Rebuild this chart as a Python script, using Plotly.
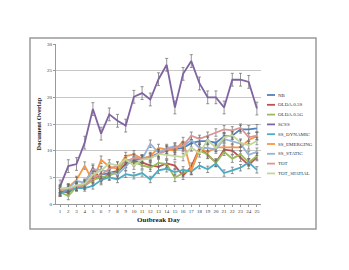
import plotly.graph_objects as go

days = list(range(1, 26))
series_names = ["NB", "OLDA.0.5S", "OLDA.0.5G", "SCSS", "SS_DYNAMIC",
                "SS_EMERGING", "SS_STATIC", "TOT", "TOT_SPATIAL"]
colors = ["#4F81BD", "#C0504D", "#9BBB59", "#8064A2", "#4BACC6",
          "#F79646", "#95B3D7", "#D99694", "#C3D69B"]

nb = [2.2, 2.6, 3.3, 3.8, 4.8, 5.5, 5.8, 6.0, 7.5, 8.2, 8.5, 8.8, 9.5, 10.0, 10.3,
      10.5, 11.4, 11.8, 11.8, 11.5, 12.7, 12.8, 14.0, 14.0, 14.2]
olda_s = [2.3, 2.2, 3.2, 3.7, 6.8, 4.3, 5.8, 6.2, 7.5, 8.0, 7.8, 7.2, 7.0, 7.6, 7.2,
          5.3, 7.0, 10.5, 9.2, 7.8, 10.2, 10.0, 8.7, 7.3, 8.8]
olda_g = [2.2, 1.5, 3.2, 3.4, 4.5, 5.0, 5.3, 6.0, 8.4, 7.8, 7.3, 6.8, 7.7, 7.5, 4.9,
          5.8, 6.5, 10.0, 9.3, 7.7, 9.8, 8.5, 9.3, 7.8, 9.0]
scss = [3.3, 7.1, 7.5, 11.5, 17.8, 13.2, 16.8, 15.6, 14.7, 20.1, 20.8, 19.6, 23.4, 26.1,
        18.1, 24.4, 26.8, 22.6, 20.0, 20.0, 18.1, 23.3, 23.3, 22.9, 17.9]
ss_dyn = [2.0, 2.5, 3.0, 3.0, 3.4, 4.5, 5.0, 4.6, 5.6, 5.3, 5.8, 4.6, 6.3, 6.6, 6.0,
          6.4, 6.1, 7.2, 6.5, 7.6, 5.8, 6.3, 6.8, 7.8, 6.4]
ss_emg = [2.5, 3.1, 4.5, 7.2, 4.2, 8.3, 7.0, 6.6, 9.0, 9.3, 8.5, 9.0, 10.5, 10.2, 10.0,
          11.8, 6.2, 10.6, 9.7, 10.6, 10.6, 10.6, 10.6, 12.0, 12.7]
ss_sta = [2.8, 3.0, 4.3, 4.0, 6.5, 6.4, 6.0, 5.5, 7.0, 8.8, 8.4, 11.3, 9.6, 10.5, 10.8,
          10.8, 12.0, 10.5, 10.5, 10.2, 12.2, 11.8, 11.3, 9.2, 9.8]
tot = [2.6, 2.8, 3.3, 3.5, 5.0, 5.5, 6.6, 7.2, 8.0, 8.6, 8.5, 8.8, 9.2, 10.2, 10.6,
       11.0, 12.8, 12.2, 12.8, 13.4, 14.0, 13.8, 14.3, 12.5, 12.8]
tot_sp = [2.9, 3.0, 3.5, 3.8, 5.5, 6.3, 7.6, 7.2, 8.4, 7.2, 8.3, 8.5, 9.4, 9.2, 9.0,
          8.8, 10.6, 9.5, 12.0, 10.5, 12.5, 12.9, 11.5, 11.0, 11.8]
values = [nb, olda_s, olda_g, scss, ss_dyn, ss_emg, ss_sta, tot, tot_sp]

# estimated error-bar half-lengths per series
errors = [0.7, 0.7, 0.7, 1.2, 0.6, 0.7, 0.7, 0.7, 0.7]

y_ticks = [0, 5, 10, 15, 20, 25, 30]

fig = go.Figure()
for name, col, vals, err in zip(series_names, colors, values, errors):
    fig.add_trace(go.Scatter(
        x=days, y=vals, name=name, mode="lines",
        line=dict(color=col, width=1.8),
        error_y=dict(type="constant", value=err, color="#6a6a6a",
                     thickness=0.7, width=1.5),
        showlegend=False,
    ))

font_family = "Liberation Serif, DejaVu Serif, serif"

# page pixel geometry of the plot area (page has 8px body margin)
L, W, B, H = 56, 205, 204, 160
def px(x):
    return (x - L) / W
def py(y):
    return (B - y) / H

shapes = []
annotations = []
leg_top = 95
leg_step = 9.8
for i, (name, col) in enumerate(zip(series_names, colors)):
    yy = leg_top + i * leg_step
    shapes.append(dict(type="line", xref="paper", yref="paper",
                       x0=px(267), x1=px(275), y0=py(yy), y1=py(yy),
                       line=dict(color=col, width=1.8)))
    annotations.append(dict(text=name, xref="paper", yref="paper",
                            x=px(276), y=py(yy), xanchor="left", yanchor="middle",
                            showarrow=False, font=dict(size=5, color="#333",
                                                       family=font_family)))

# chart frame
shapes.append(dict(type="rect", xref="paper", yref="paper",
                   x0=px(30), x1=px(316), y0=py(229), y1=py(38),
                   line=dict(color="#9a9a9a", width=1.5), layer="below"))

fig.update_layout(
    width=341, height=262,
    margin=dict(l=48, r=88, t=36, b=66),
    paper_bgcolor="white", plot_bgcolor="white",
    font=dict(family=font_family, size=5, color="#333"),
    shapes=shapes, annotations=annotations,
    xaxis=dict(range=[0.5, 25.5], tickvals=days, ticktext=[str(d) for d in days],
               showgrid=False, showline=True, linecolor="#9a9a9a", linewidth=1,
               ticks="outside", ticklen=2, tickcolor="#9a9a9a",
               tickfont=dict(size=5, family=font_family, color="#333"),
               title=dict(text="<b>Outbreak Day</b>", standoff=4,
                          font=dict(size=7, family=font_family, color="#222")),
               zeroline=False, fixedrange=True),
    yaxis=dict(range=[0, 30], tickvals=y_ticks,
               showgrid=True, gridcolor="#c8c8c8", gridwidth=1,
               showline=True, linecolor="#9a9a9a", linewidth=1,
               ticks="outside", ticklen=2, tickcolor="#9a9a9a",
               tickfont=dict(size=5, family=font_family, color="#333"),
               title=dict(text="<b>Document Overlap</b>", standoff=4,
                          font=dict(size=6.5, family=font_family, color="#222")),
               zeroline=False, fixedrange=True),
)

fig.write_html("out.html")
